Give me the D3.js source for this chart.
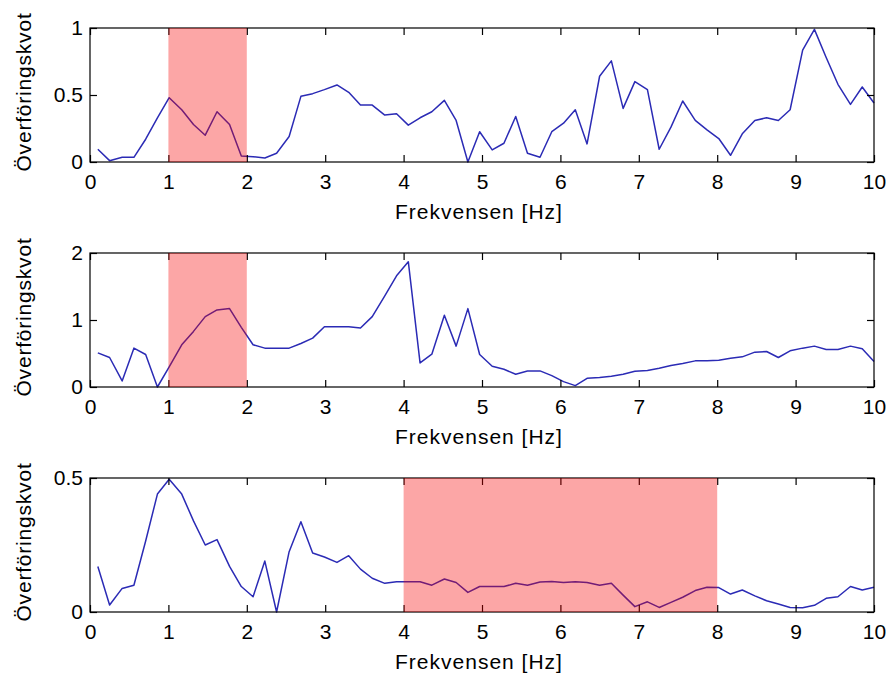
<!DOCTYPE html>
<html>
<head>
<meta charset="utf-8">
<script src="https://cdn.jsdelivr.net/npm/d3@7"></script>
<style>
  html, body { margin: 0; padding: 0; background: #fff; }
  svg text { font-family: "Liberation Sans", Arial, Helvetica, sans-serif; fill: #000; }
</style>
</head>
<body>
<div id="chart"></div>
<script>
// frequency axis (Hz)
const freq = [
  0.10, 0.25, 0.41, 0.56, 0.71, 0.86, 1.01, 1.17, 1.32, 1.47,
  1.62, 1.78, 1.93, 2.08, 2.23, 2.38, 2.54, 2.69, 2.84, 2.99,
  3.15, 3.30, 3.45, 3.60, 3.76, 3.91, 4.06, 4.21, 4.36, 4.52,
  4.67, 4.82, 4.97, 5.13, 5.28, 5.43, 5.58, 5.74, 5.89, 6.04,
  6.19, 6.34, 6.50, 6.65, 6.80, 6.95, 7.11, 7.26, 7.41, 7.56,
  7.72, 7.87, 8.02, 8.17, 8.32, 8.48, 8.63, 8.78, 8.93, 9.09,
  9.24, 9.39, 9.54, 9.70, 9.85, 10.00
];

// transfer ratio, one array per subplot
const ratioTop = [
  0.095, 0.01, 0.035, 0.035, 0.17, 0.33, 0.48, 0.39, 0.28, 0.20,
  0.375, 0.28, 0.045, 0.04, 0.03, 0.065, 0.19, 0.49, 0.51, 0.54,
  0.575, 0.52, 0.425, 0.425, 0.35, 0.36, 0.275, 0.33, 0.375, 0.46,
  0.31, 0.0, 0.226, 0.09, 0.14, 0.34, 0.065, 0.035, 0.226, 0.29,
  0.39, 0.135, 0.64, 0.755, 0.40, 0.60, 0.54, 0.095, 0.26, 0.455,
  0.31, 0.24, 0.175, 0.05, 0.21, 0.31, 0.33, 0.31, 0.39, 0.835,
  0.99, 0.78, 0.58, 0.43, 0.56, 0.44
];
const ratioMid = [
  0.51, 0.44, 0.09, 0.58, 0.485, 0.0, 0.3, 0.63, 0.83, 1.05,
  1.15, 1.17, 0.89, 0.63, 0.58, 0.58, 0.58, 0.65, 0.73, 0.9,
  0.9, 0.9, 0.88, 1.05, 1.36, 1.66, 1.87, 0.36, 0.49, 1.07,
  0.61, 1.17, 0.485, 0.31, 0.265, 0.19, 0.24, 0.24, 0.17, 0.08,
  0.02, 0.13, 0.14, 0.16, 0.19, 0.235, 0.245, 0.28, 0.32, 0.35,
  0.39, 0.39, 0.40, 0.43, 0.45, 0.52, 0.53, 0.44, 0.54, 0.58,
  0.61, 0.56, 0.56, 0.61, 0.57, 0.38
];
const ratioBot = [
  0.17, 0.026, 0.088, 0.10, 0.265, 0.44, 0.495, 0.44, 0.34, 0.25,
  0.27, 0.17, 0.095, 0.057, 0.19, 0.0, 0.225, 0.337, 0.22, 0.205,
  0.185, 0.21, 0.16, 0.126, 0.107, 0.113, 0.113, 0.113, 0.10, 0.123,
  0.11, 0.073, 0.095, 0.095, 0.095, 0.107, 0.10, 0.112, 0.114, 0.11,
  0.113, 0.11, 0.10, 0.107, 0.063, 0.02, 0.038, 0.017, 0.036, 0.055,
  0.08, 0.092, 0.091, 0.067, 0.082, 0.06, 0.042, 0.03, 0.017, 0.016,
  0.025, 0.051, 0.057, 0.095, 0.082, 0.092
];

// highlighted frequency bands [from, to]
const bandTop = [1, 2];
const bandMid = [1, 2];
const bandBot = [4, 8];

// y limits and ticks
const yMaxes = [1, 2, 0.5];
const yTicksTop = [0, 0.5, 1];
const yTicksMid = [0, 1, 2];
const yTicksBot = [0, 0.5];
const xTicks = [0, 1, 2, 3, 4, 5, 6, 7, 8, 9, 10];

const xLabel = "Frekvensen [Hz]";
const yLabel = "Överföringskvot";

const width = 889, height = 680;
const left = 90, right = 874, plotH = 134;
const tops = [28, 253, 478];
const tickLen = 7;

const svg = d3.select("#chart").append("svg")
  .attr("width", width)
  .attr("height", height);

const panels = [
  { y: ratioTop, band: bandTop, yTicks: yTicksTop, yMax: yMaxes[0] },
  { y: ratioMid, band: bandMid, yTicks: yTicksMid, yMax: yMaxes[1] },
  { y: ratioBot, band: bandBot, yTicks: yTicksBot, yMax: yMaxes[2] }
];

const x = d3.scaleLinear().domain([0, 10]).range([left, right]);

panels.forEach((p, i) => {
  const top = tops[i], bottom = top + plotH;
  const y = d3.scaleLinear().domain([0, p.yMax]).range([bottom, top]);
  const g = svg.append("g");

  // the data line
  const line = d3.line()
    .x((d, j) => x(freq[j]))
    .y(d => y(d));
  g.append("path")
    .datum(p.y)
    .attr("d", line)
    .attr("fill", "none")
    .attr("stroke", "#2b2bb5")
    .attr("stroke-width", 1.5)
    .attr("stroke-linejoin", "round");

  // axes: ticks point inward on all four sides
  const fmt = d => d3.format("")(d);
  g.append("g")
    .attr("transform", `translate(0,${bottom})`)
    .call(d3.axisBottom(x).tickValues(xTicks).tickSize(-tickLen).tickPadding(12).tickFormat(fmt));
  g.append("g")
    .attr("transform", `translate(0,${top})`)
    .call(d3.axisTop(x).tickValues(xTicks).tickSize(-tickLen).tickFormat(""));
  g.append("g")
    .attr("transform", `translate(${left},0)`)
    .call(d3.axisLeft(y).tickValues(p.yTicks).tickSize(-tickLen).tickPadding(7).tickFormat(fmt));
  g.append("g")
    .attr("transform", `translate(${right},0)`)
    .call(d3.axisRight(y).tickValues(p.yTicks).tickSize(-tickLen).tickFormat(""));

  g.selectAll(".domain").remove();
  g.selectAll(".tick line").attr("stroke", "#000").attr("stroke-width", 1.2);
  g.selectAll(".tick text")
    .attr("font-size", "21px")
    .attr("fill", "#111")
    .style("font-family", "'Liberation Sans', Arial, sans-serif");

  g.append("rect")
    .attr("x", left).attr("y", top)
    .attr("width", right - left).attr("height", plotH)
    .attr("fill", "none")
    .attr("stroke", "#000")
    .attr("stroke-width", 1.2);

  // translucent red band, drawn over the axes like the original
  g.append("rect")
    .attr("x", x(p.band[0]))
    .attr("y", top)
    .attr("width", x(p.band[1]) - x(p.band[0]))
    .attr("height", plotH)
    .attr("fill", "#f50000")
    .attr("fill-opacity", 0.35);

  // labels
  g.append("text")
    .attr("x", (left + right) / 2 - 3)
    .attr("y", bottom + 57)
    .attr("text-anchor", "middle")
    .attr("font-size", "21px")
    .attr("fill", "#111")
    .style("letter-spacing", "1px")
    .text(xLabel);

  g.append("text")
    .attr("transform", `translate(31,${(top + bottom) / 2 - 3}) rotate(-90)`)
    .attr("text-anchor", "middle")
    .attr("font-size", "21px")
    .attr("fill", "#111")
    .style("letter-spacing", "0.8px")
    .text(yLabel);
});
</script>
</body>
</html>
